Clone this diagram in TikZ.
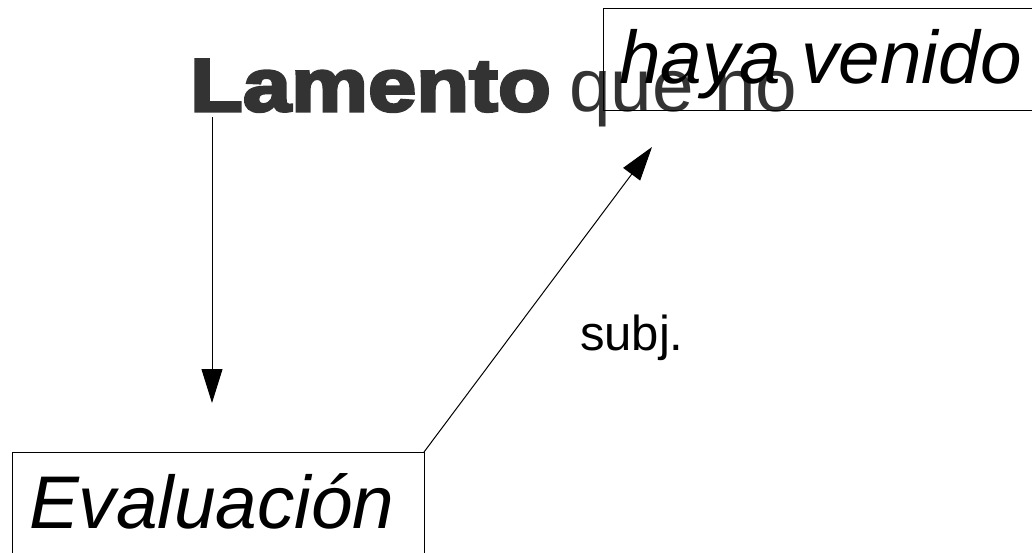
\documentclass[tikz,border=0pt]{standalone}
\usepackage{fontspec}
\setmainfont{Liberation Sans}
\newfontfamily\lamfont[FakeBold=4,FakeStretch=1.16]{Liberation Sans Bold}
\usetikzlibrary{arrows.meta}
\definecolor{darkgrey}{HTML}{333333}
\begin{document}
\begin{tikzpicture}[x=0.75pt,y=-0.75pt,
  txt/.style={anchor=base west,inner sep=0pt,outer sep=0pt},
  big/.style={font=\fontsize{56pt}{60pt}\selectfont},
  boxst/.style={draw=black,line width=0.75pt,inner sep=0pt,outer sep=0pt,rectangle},
  arr/.style={draw=black,line width=0.75pt,-{Triangle[length=25.5pt,width=15.75pt]}}]
\clip (0,0) rectangle (1032,553);
\fill[white] (0,0) rectangle (1032,553);
% texts
\node[txt,big,text=darkgrey] (lamento) at (190,111) {\lamfont Lamento};
\node[txt,big,text=darkgrey] (queno) at (569,111) {que no};
\node[boxst,minimum width=327.75pt,minimum height=76.5pt] (hayabox) at (821.5,59) {};
\node[txt,big] (haya) at (619,83) {\itshape haya venido};
\node[boxst,minimum width=308.5pt,minimum height=81pt] (evalbox) at (218.35,506) {};
\node[txt,big] (eval) at (29,528) {\itshape Evaluación};
\node[txt,font=\fontsize{36.8pt}{40pt}\selectfont] (subj) at (580,350) {subj.};
% connectors
\coordinate (dtop) at (212,117);
\coordinate (dtip) at (212,403);
\coordinate (gtip) at (652,147);
\draw[arr] (dtop) -- (dtip);
\draw[arr] (evalbox.north east) -- (gtip);
\end{tikzpicture}
\end{document}
